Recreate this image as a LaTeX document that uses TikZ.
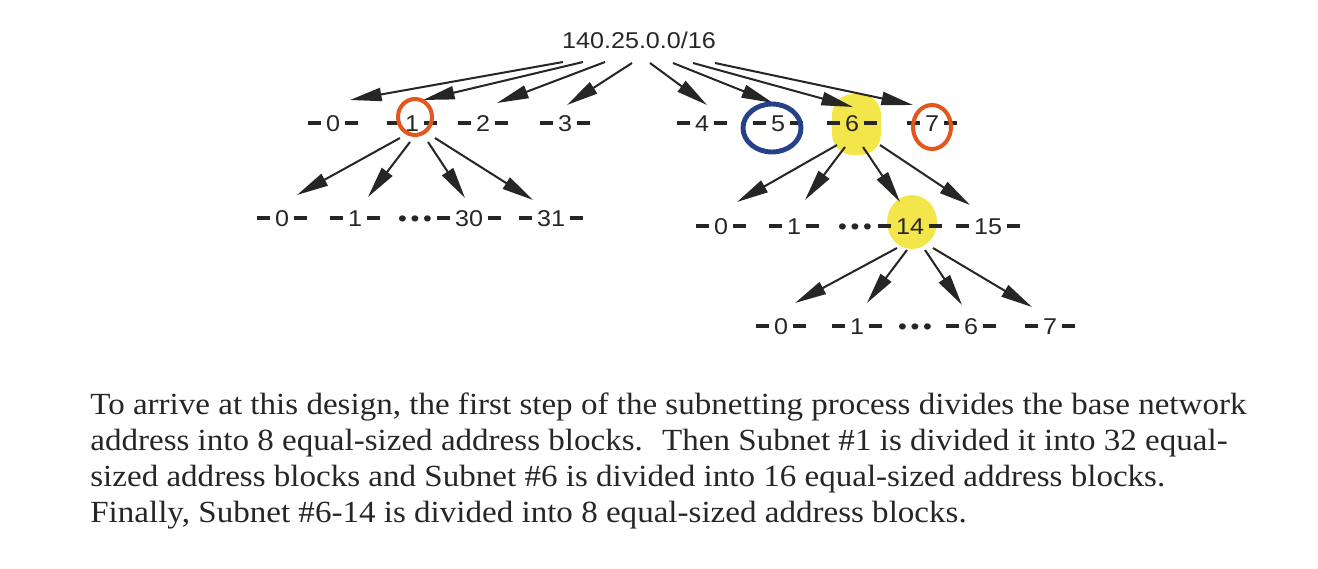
\documentclass[tikz,border=0pt]{standalone}
\usepackage{fontspec}
\setmainfont[FakeStretch=1.075]{Liberation Serif}
\newfontfamily\labfont[FakeStretch=1.1]{Liberation Sans}
\usetikzlibrary{arrows.meta,calc,positioning,backgrounds}
\definecolor{penorange}{HTML}{E2571E}
\definecolor{penblue}{HTML}{24418A}
\definecolor{hiyellow}{HTML}{F3E64A}
\definecolor{inkgray}{HTML}{262626}
\tikzset{
  blk/.style={inner sep=0pt,font=\labfont\fontsize{13}{13}\selectfont,text height=0.72em,text depth=0pt,text=inkgray},
  arr/.style={-{Triangle[length=18pt,width=7.5pt]},line width=1.15pt,draw=inkgray},
  body/.style={inner sep=0pt,align=left,text=inkgray,font=\fontsize{17.5}{20.5}\selectfont},
  penmark/.style={line width=2.3pt,penorange},
}
\newcommand{\dashbar}{\rule[0.28em]{0.6em}{0.16em}}
\newcommand{\blkn}[1]{\dashbar\hspace{0.2em}#1\hspace{0.2em}\dashbar}
\newcommand{\blkdots}{•\,•\,•}

\begin{document}
\begin{tikzpicture}[x=0.02cm,y=-0.02cm]
 \useasboundingbox (0,0) rectangle (1318,568);
 \node[blk] (net) at (639,42) {140.25.0.0/16};
 \node[blk] (s0) at (333,125) {\blkn{0}}; \node[blk] (s1) at (412,125) {\blkn{1}};
 \node[blk] (s2) at (483,125) {\blkn{2}}; \node[blk] (s3) at (565,125) {\blkn{3}};
 \node[blk] (s4) at (702,125) {\blkn{4}}; \node[blk] (s5) at (778,125) {\blkn{5}};
 \node[blk] (s6) at (852,125) {\blkn{6}}; \node[blk] (s7) at (932,125) {\blkn{7}};
 \node[blk] (t0) at (282,220) {\blkn{0}}; \node[blk] (t1) at (355,220) {\blkn{1}};
 \node[blk] (tdots) at (415,220) {\blkdots};
 \node[blk] (t30) at (469,220) {\blkn{30}}; \node[blk] (t31) at (551,220) {\blkn{31}};
 \node[blk] (u0) at (721,228) {\blkn{0}}; \node[blk] (u1) at (794,228) {\blkn{1}};
 \node[blk] (udots) at (855,228) {\blkdots};
 \node[blk] (u14) at (910,228) {\blkn{14}}; \node[blk] (u15) at (988,228) {\blkn{15}};
 \node[blk] (v0) at (781,328) {\blkn{0}}; \node[blk] (v1) at (857,328) {\blkn{1}};
 \node[blk] (vdots) at (915,328) {\blkdots};
 \node[blk] (v6) at (971,328) {\blkn{6}}; \node[blk] (v7) at (1050,328) {\blkn{7}};
 \begin{scope}[on background layer]
  \fill[hiyellow,rounded corners=12] ($(s6)+(-20,-31)$) rectangle ($(s6)+(29,30)$);
  \fill[hiyellow] ($(u14)+(2,-6)$) ellipse (25 and 27);
 \end{scope}
 \draw[arr] ($(net)+(-76,20)$) -- ($(s0)+(17,-25)$);
 \draw[arr] ($(net)+(-56,20)$) -- ($(s1)+(11,-25)$);
 \draw[arr] ($(net)+(-34,20)$) -- ($(s2)+(14,-22)$);
 \draw[arr] ($(net)+(-7,21)$) -- ($(s3)+(2,-20)$);
 \draw[arr] ($(net)+(11,21)$) -- ($(s4)+(5,-20)$);
 \draw[arr] ($(net)+(34,21)$) -- ($(s5)+(-5,-22)$);
 \draw[arr] ($(net)+(54,21)$) -- ($(s6)+(1,-18)$);
 \draw[arr] ($(net)+(76,21)$) -- ($(s7)+(-19,-20)$);
 \draw[arr] ($(s1)+(-12,13)$) -- ($(t0)+(15,-25)$);
 \draw[arr] ($(s1)+(-2,17)$) -- ($(t1)+(13,-23)$);
 \draw[arr] ($(s1)+(16,17)$) -- ($(t30)+(-4,-22)$);
 \draw[arr] ($(s1)+(23,13)$) -- ($(t31)+(-18,-20)$);
 \draw[arr] ($(s6)+(-15,20)$) -- ($(u0)+(16,-26)$);
 \draw[arr] ($(s6)+(-7,22)$) -- ($(u1)+(11,-28)$);
 \draw[arr] ($(s6)+(11,22)$) -- ($(u14)+(-10,-26)$);
 \draw[arr] ($(s6)+(28,20)$) -- ($(u15)+(-18,-23)$);
 \draw[arr] ($(u14)+(-13,20)$) -- ($(v0)+(14,-25)$);
 \draw[arr] ($(u14)+(-3,22)$) -- ($(v1)+(10,-25)$);
 \draw[arr] ($(u14)+(15,22)$) -- ($(v6)+(-9,-23)$);
 \draw[arr] ($(u14)+(23,20)$) -- ($(v7)+(-18,-21)$);
 \draw[penmark] ($(s1)+(3,-8)$) ellipse (17 and 18);
 \draw[penmark] ($(s7)+(0,2)$) ellipse (19 and 22);
 \draw[penblue,line width=2.8pt] ($(s5)+(-6,3)$) ellipse (29 and 24);
 \node[body,anchor=north west] (note) at (90,392) {To arrive at this design, the first step of the subnetting process divides the base network\\
  address into 8 equal-sized address blocks.~ Then Subnet \#1 is divided it into 32 equal-\\
  sized address blocks and Subnet \#6 is divided into 16 equal-sized address blocks.\\
  Finally, Subnet \#6-14 is divided into 8 equal-sized address blocks.};
\end{tikzpicture}
\end{document}
